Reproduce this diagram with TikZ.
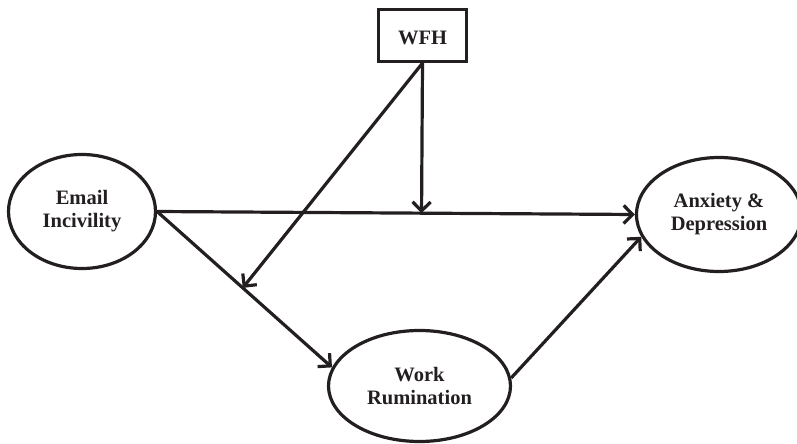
\documentclass[tikz,border=0pt]{standalone}
\usepackage{fontspec}
\setmainfont{Liberation Serif}
\usetikzlibrary{arrows.meta,shapes.geometric,calc}
\definecolor{ink}{HTML}{231F20}
\begin{document}
\begin{tikzpicture}[x=1bp,y=-1bp,
  txt/.style={font=\fontsize{20.5bp}{23bp}\selectfont\bfseries, text=ink, align=center},
  oval/.style={ellipse, draw=ink, line width=3.2bp, inner sep=0pt, txt},
  sqbox/.style={rectangle, draw=ink, line width=3.2bp, inner sep=0pt, txt},
  conn/.style={draw=ink, line width=3.2bp, -{Straight Barb[length=9bp,width=18bp]}},
]
\useasboundingbox (0,0) rectangle (797,444);

\node[sqbox, minimum width=88bp, minimum height=52bp, text height=19bp, text depth=0bp] (wfh) at (422.5,35.5) {WFH};
\node[oval, minimum width=147bp, minimum height=114bp] (ei) at (82,211.5) {Email\\Incivility};
\node[oval, minimum width=165bp, minimum height=114bp] (ad) at (719,214.5) {Anxiety \&\\Depression};
\node[oval, minimum width=182bp, minimum height=111bp] (wr) at (419.5,386) {Work\\Rumination};

\coordinate (m1) at ($(ei.east)!(wfh.south)!(ad.west)$);
\path (ei.east) -- (wr.168) coordinate[pos=0.49] (m2);

\draw[conn] (ei.east) -- (ad.west);
\draw[conn] (ei.east) -- (wr.168);
\draw[conn] (wr.5) -- (ad.196);
\draw[conn] (wfh.south) -- (m1);
\draw[conn] (wfh.south) -- (m2);
\end{tikzpicture}
\end{document}
